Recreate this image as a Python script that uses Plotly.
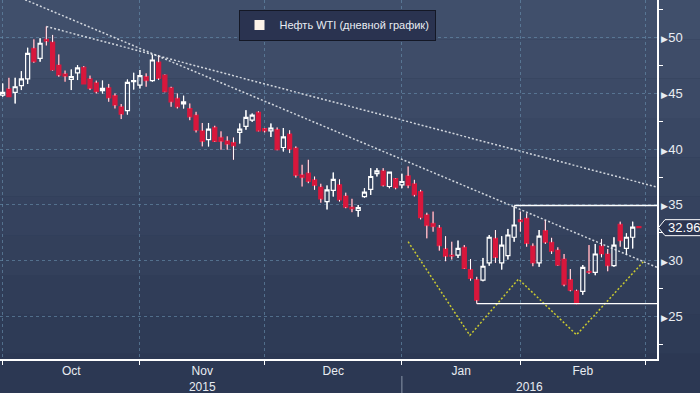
import plotly.graph_objects as go

# ---- data: WTI daily candles, trading-day index 0 = 1 Oct 2015 ----
open_ = [44.85, 45.4, 45.1, 45.7, 46.3, 49.05, 48.15, 49.85, 49.6, 47.55,
         46.75, 46.25, 46.85, 47.35, 46.3, 45.95, 45.25, 45.5, 44.8, 43.8,
         43.45, 46.05, 45.75, 46.5, 46.15, 47.8, 46.65, 45.5, 44.55, 44.05,
         43.65, 43.05, 41.65, 40.85, 41.95, 41.05, 40.75, 40.6, 41.5, 42.05,
         42.6, 43.3, 41.85, 41.65, 41.75, 40.15, 41.35, 40.1, 37.7, 37.85,
         37.25, 36.6, 35.3, 36.3, 36.8, 35.8, 34.8, 34.5, 35.75, 36.4,
         37.8, 38.05, 36.65, 37.35, 36.8, 37.6, 36.9, 36.2, 34.1, 33.35,
         32.95, 31.05, 30.5, 30.5, 31.2, 29.2, 28.3, 28.25, 29.8, 32.0,
         29.8, 30.45, 32.1, 33.65, 33.8, 31.3, 29.8, 32.7, 31.65, 30.95,
         30.15, 28.3, 27.3, 27.25, 29.05, 28.95, 31.3, 30.6, 29.55, 33.25,
         31.1, 32.1, 33.05]
high = [45.9, 46.4, 46.4, 47.0, 49.1, 49.85, 49.95, 51.0, 50.25, 48.5,
        47.05, 47.15, 47.55, 47.45, 46.6, 46.15, 46.15, 45.85, 45.0, 44.05,
        46.25, 46.85, 47.1, 46.8, 48.45, 48.45, 46.7, 45.6, 45.0, 44.8,
        44.1, 43.35, 42.35, 42.35, 42.1, 41.6, 41.15, 41.05, 42.3, 43.5,
        43.2, 43.4, 41.9, 42.3, 41.95, 41.9, 41.7, 40.25, 38.6, 39.05,
        37.55, 36.9, 36.75, 37.9, 37.3, 36.1, 35.55, 35.0, 36.5, 38.3,
        38.3, 38.3, 37.95, 37.4, 37.8, 38.45, 37.25, 36.35, 34.3, 34.4,
        33.2, 32.2, 31.7, 31.8, 31.4, 30.15, 28.55, 30.25, 32.3, 32.75,
        32.2, 32.85, 34.9, 34.4, 34.25, 31.55, 32.75, 33.65, 32.05, 31.2,
        30.6, 29.25, 27.4, 29.6, 31.4, 31.5, 31.95, 31.05, 32.1, 33.5,
        32.45, 33.5, 33.05]
low = [44.7, 44.7, 44.1, 45.3, 45.85, 47.75, 47.85, 49.3, 47.05, 46.5,
       46.05, 45.3, 46.2, 45.85, 45.3, 45.0, 45.0, 44.25, 43.65, 42.7,
       43.1, 45.35, 45.45, 45.6, 46.05, 46.2, 45.1, 43.8, 43.65, 43.65,
       42.6, 41.5, 40.25, 40.25, 40.65, 39.95, 39.95, 39.05, 40.5, 41.75,
       42.45, 41.6, 41.5, 41.1, 39.9, 39.8, 39.65, 37.45, 36.65, 36.95,
       36.35, 35.2, 34.6, 35.75, 35.3, 34.7, 34.35, 33.95, 35.65, 35.9,
       37.55, 36.65, 36.5, 36.4, 36.5, 36.5, 35.75, 33.7, 32.0, 32.6,
       30.9, 29.95, 30.1, 30.25, 29.25, 28.2, 26.15, 28.15, 29.55, 29.8,
       29.2, 30.1, 31.7, 32.6, 31.25, 29.5, 29.45, 31.5, 30.6, 29.55,
       27.7, 27.25, 26.1, 26.95, 28.8, 28.7, 30.3, 29.05, 29.45, 31.25,
       30.5, 31.1, 32.96]
close = [45.1, 44.7, 45.6, 46.3, 48.6, 47.85, 49.5, 49.7, 47.1, 46.65,
         46.55, 46.5, 47.3, 45.85, 45.45, 45.15, 45.45, 44.6, 43.95, 43.15,
         46.0, 46.15, 46.6, 46.15, 48.0, 46.35, 45.15, 44.25, 43.8, 44.25,
         42.9, 41.7, 40.7, 41.8, 40.7, 40.7, 40.45, 40.3, 41.8, 42.85,
         43.05, 41.65, 41.65, 41.9, 39.95, 41.1, 40.0, 37.65, 37.45, 37.1,
         36.75, 35.55, 36.35, 37.3, 35.45, 34.8, 34.65, 34.75, 36.15, 37.55,
         38.05, 36.75, 37.95, 36.55, 37.1, 36.75, 35.9, 33.85, 33.15, 33.05,
         31.35, 30.4, 30.4, 31.1, 29.3, 28.4, 26.45, 29.5, 32.1, 30.3,
         31.4, 32.3, 33.2, 33.5, 31.55, 29.8, 32.2, 31.65, 30.85, 29.6,
         27.85, 27.35, 26.15, 29.4, 28.95, 30.6, 30.6, 29.55, 31.4, 31.8,
         32.1, 33.0, 32.96]

series_name = "Нефть WTI (дневной график)"
month_labels = ["Oct", "Nov", "Dec", "Jan", "Feb"]
month_start = [0, 22, 42, 64, 83, 103]      # first trading day of each month
year_labels = ["2015", "2016"]
year_start = [0, 64]
y_ticks = [25, 30, 35, 40, 45, 50]

# drawn study lines (trading-day index, price)
trend_a_x = [3.6, 104.9]
trend_a_y = [53.4, 29.4]
trend_b_x = [7, 104.9]
trend_b_y = [51.0, 36.6]
hs_x = [65.0, 74.9, 82.7, 92.0, 102.7]
hs_y = [31.7, 23.3, 28.35, 23.35, 29.9]
resist_x = [82, 104.9]
resist_y = [34.95, 34.95]
support_x = [76, 104.9]
support_y = [26.15, 26.15]
last_price = 32.96

# ---- layout constants ----
W, H = 700, 393
ML, MR, MT, MB = 0, 43, 0, 34
PW, PH = W - ML - MR, H - MT - MB
X0, X1 = -0.43, 104.9
Y0, Y1 = 21.18, 53.38
RED = "#d8173c"
GRID = "rgba(105,145,175,0.6)"
FONT = "Liberation Sans, Arial, sans-serif"
TXT = "#e8ecf2"

idx = list(range(len(close)))

# wick segments (white), drawn above the candle bodies
wx, wy = [], []
for i in idx:
    top = max(open_[i], close[i])
    bot = min(open_[i], close[i])
    wx += [i, i, None, i, i, None]
    wy += [top, high[i], None, low[i], bot, None]

fig = go.Figure()
fig.add_trace(go.Candlestick(
    x=idx, open=open_, high=high, low=low, close=close,
    increasing=dict(line=dict(color="white", width=1.2), fillcolor="rgba(0,0,0,0)"),
    decreasing=dict(line=dict(color=RED, width=1.2), fillcolor=RED),
    whiskerwidth=0, showlegend=False, hoverinfo="skip"))
fig.add_trace(go.Scatter(x=wx, y=wy, mode="lines", line=dict(color="white", width=1),
                         showlegend=False, hoverinfo="skip"))

dot = dict(color="rgba(235,238,242,0.85)", width=1.5, dash="2px,2px")
fig.add_trace(go.Scatter(x=trend_a_x, y=trend_a_y, mode="lines", line=dot, showlegend=False, hoverinfo="skip"))
fig.add_trace(go.Scatter(x=trend_b_x, y=trend_b_y, mode="lines", line=dot, showlegend=False, hoverinfo="skip"))
fig.add_trace(go.Scatter(x=hs_x, y=hs_y, mode="lines",
                         line=dict(color="#c9c930", width=1.5, dash="2px,2px"),
                         showlegend=False, hoverinfo="skip"))
solid = dict(color="white", width=1.3)
fig.add_trace(go.Scatter(x=resist_x, y=resist_y, mode="lines", line=solid, showlegend=False, hoverinfo="skip"))
fig.add_trace(go.Scatter(x=support_x, y=support_y, mode="lines", line=solid, showlegend=False, hoverinfo="skip"))

# legend entry
fig.add_trace(go.Scatter(x=[None], y=[None], mode="markers", name=series_name,
                         marker=dict(symbol="square", size=10, color="#fdf3e8")))

# x tick labels: months at month centres, years at centre of their visible span
labels = {}
bounds = month_start
for k, m in enumerate(month_labels):
    labels[(bounds[k] + bounds[k + 1]) / 2] = m
yr_bounds = year_start + [X1]
for k, yl in enumerate(year_labels):
    pos = (yr_bounds[k] + yr_bounds[k + 1]) / 2
    if pos in labels:
        labels[pos] = labels[pos] + "<br>" + yl
    else:
        labels[pos] = "<br>" + yl
tick_pos = sorted(labels)
tick_txt = [labels[p] for p in tick_pos]

y_txt = ["<span style='font-size:9px'>▶</span>" + str(v) for v in y_ticks]
y_minor = [v - 2.5 for v in y_ticks] + [y_ticks[-1] + 2.5]

# background gradient bands
shapes = []
top_c = (64, 79, 107)
bot_c = (44, 56, 83)
n_b = 10
for b in range(n_b):
    t = b / (n_b - 1)
    c = tuple(round(top_c[j] + (bot_c[j] - top_c[j]) * t) for j in range(3))
    shapes.append(dict(type="rect", xref="paper", yref="paper", layer="below",
                       x0=-0.05, x1=1.2, y0=1 - (b + 1) / n_b * (H / PH), y1=1 - b / n_b * (H / PH),
                       fillcolor="rgb(%d,%d,%d)" % c, line=dict(width=0)))

# year divider under the axis
shapes.append(dict(type="line", xref="x", yref="paper", x0=year_start[1], x1=year_start[1],
                   y0=-17 / PH, y1=-(H - PH) / PH, line=dict(color="#8a96a8", width=1)))

# last price tag
def py(v):
    return (v - Y0) / (Y1 - Y0)

hh = 8 / PH
cy = py(last_price)
tip, sh, rt = 1 + 1.5 / PW, 1 + 8 / PW, 1 + 60 / PW
shapes.append(dict(type="path", xref="paper", yref="paper",
                   path=f"M{tip},{cy} L{sh},{cy + hh} L{rt},{cy + hh} L{rt},{cy - hh} L{sh},{cy - hh} Z",
                   fillcolor="#2c3652", line=dict(color="white", width=1)))

fig.update_layout(
    width=W, height=H, margin=dict(l=ML, r=MR, t=MT, b=MB, autoexpand=False),
    paper_bgcolor="rgb(44,56,83)", plot_bgcolor="rgba(0,0,0,0)",
    font=dict(family=FONT, color=TXT, size=12),
    boxgap=0, boxgroupgap=0.35,
    shapes=shapes,
    showlegend=True,
    legend=dict(x=(337 / PW), xanchor="center", y=1 - 9.5 / PH, yanchor="top",
                bgcolor="#2a3350", bordercolor="#141826", borderwidth=1,
                itemwidth=30, tracegroupgap=0,
                font=dict(family=FONT, size=11, color=TXT)),
    xaxis=dict(range=[X0, X1], tickmode="array", tickvals=tick_pos, ticktext=tick_txt,
               ticks="", showgrid=False, showline=True, linecolor="white", linewidth=1.5,
               zeroline=False, rangeslider=dict(visible=False), fixedrange=True,
               tickfont=dict(family=FONT, size=12, color=TXT),
               minor=dict(tickmode="array", tickvals=month_start, ticks="outside", ticklen=4,
                          tickcolor="white", tickwidth=1, showgrid=True, gridcolor=GRID,
                          griddash="3px,3px", gridwidth=1)),
    yaxis=dict(side="right", range=[Y0, Y1], tickmode="array", tickvals=y_ticks, ticktext=y_txt,
               ticks="", showgrid=True, gridcolor=GRID, griddash="3px,3px", gridwidth=1,
               showline=True, linecolor="white", linewidth=1.5, zeroline=False, fixedrange=True,
               tickfont=dict(family=FONT, size=13, color=TXT),
               minor=dict(tickmode="array", tickvals=y_minor, ticks="outside", ticklen=4,
                          tickcolor="white", tickwidth=1, showgrid=False)),
    annotations=[dict(xref="paper", yref="y", x=1 + 9 / PW, y=last_price, xanchor="left",
                      yanchor="middle", text=f"{last_price:.2f}", showarrow=False,
                      font=dict(family=FONT, size=13, color="white"))],
)

fig.write_html("out.html", config={"displayModeBar": False},
               post_script="document.body.style.margin='0';")
